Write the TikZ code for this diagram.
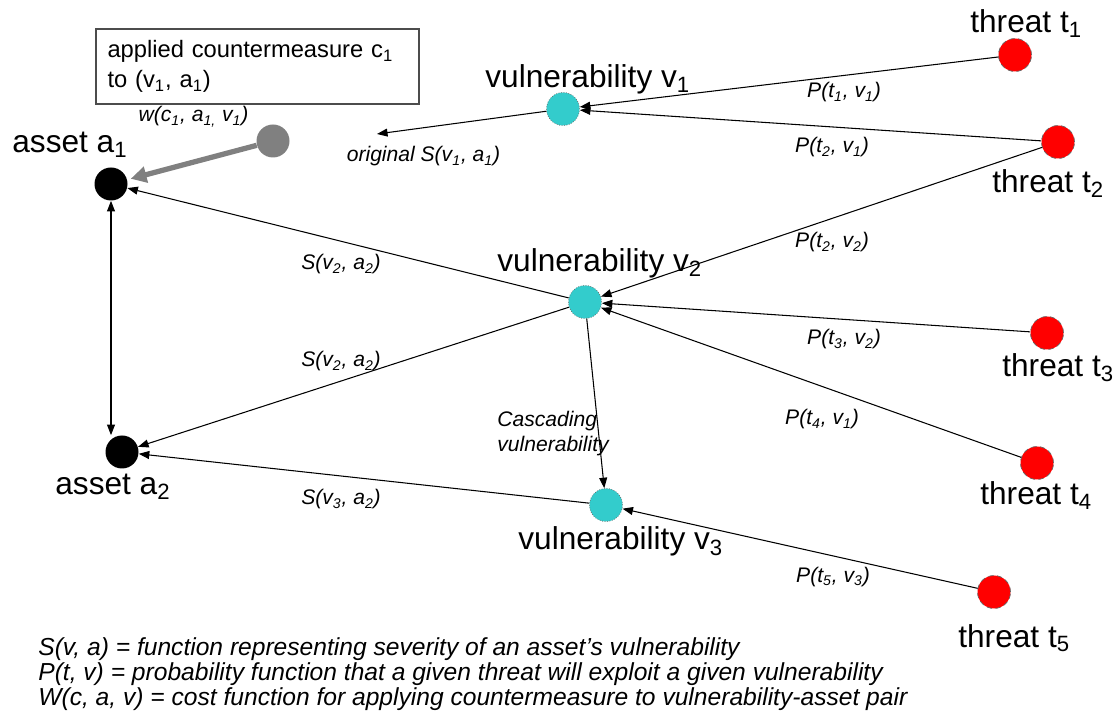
\documentclass[tikz,border=0pt]{standalone}
\usepackage{xcolor}
\usepackage{fontspec}
\setmainfont{Liberation Sans}
\usepackage{tikz}
\usetikzlibrary{arrows.meta, positioning, calc}
\definecolor{vulncyan}{HTML}{33CCCC}
\definecolor{threatred}{HTML}{FF0000}
\definecolor{cmgrey}{HTML}{808080}
\newcommand{\lsub}[1]{\textsubscript{#1}}
\tikzstyle{asset} = [circle, fill=black, minimum size=0.66cm, inner sep=0pt]
\tikzstyle{vuln} = [circle, fill=vulncyan, draw=black!60, densely dotted, minimum size=0.66cm, inner sep=0pt]
\tikzstyle{threat} = [circle, fill=threatred, draw=black!60, densely dashed, minimum size=0.66cm, inner sep=0pt]
\tikzstyle{cmeasure} = [circle, fill=cmgrey, minimum size=0.66cm, inner sep=0pt]
\tikzstyle{biglabel} = [inner sep=0pt, anchor=base west, font=\fontsize{18}{21}\selectfont]
\tikzstyle{elabel} = [inner sep=0pt, anchor=base, font=\fontsize{12}{14}\selectfont\itshape]
\tikzstyle{legend} = [inner sep=0pt, anchor=base west, font=\fontsize{14}{16}\selectfont\itshape]
\tikzstyle{arrow} = [line width=0.6pt, -{Triangle[length=6pt, width=4.5pt]}]
\tikzstyle{cmarrow} = [line width=3pt, color=cmgrey, -{Triangle[length=9pt, width=9pt]}, shorten >=2pt]

\begin{document}
\begin{tikzpicture}
    \useasboundingbox (0,0) rectangle (22.34,-14.30);
    % assets, vulnerabilities, threats
    \node[asset] (a1) at (2.22,-3.68) {};
    \node[asset] (a2) at (2.44,-9.04) {};
    \node[cmeasure] (cm) at (5.46,-2.82) {};
    \node[vuln] (v1) at (11.26,-2.18) {};
    \node[vuln] (v2) at (11.70,-6.04) {};
    \node[vuln] (v3) at (12.12,-10.10) {};
    \node[threat] (t1) at (20.30,-1.10) {};
    \node[threat] (t2) at (21.16,-2.84) {};
    \node[threat] (t3) at (20.94,-6.66) {};
    \node[threat] (t4) at (20.74,-9.26) {};
    \node[threat] (t5) at (19.88,-11.84) {};
    \coordinate (orig) at (7.54,-2.68);

    \node[biglabel] (a1lbl) at (0.24,-3.06) {asset a\lsub{1}};
    \node[biglabel] (a2lbl) at (1.10,-9.90) {asset a\lsub{2}};
    \node[biglabel] (v1lbl) at (9.70,-1.76) {vulnerability v\lsub{1}};
    \node[biglabel] (v2lbl) at (9.94,-5.44) {vulnerability v\lsub{2}};
    \node[biglabel] (v3lbl) at (10.36,-11.00) {vulnerability v\lsub{3}};
    \node[biglabel] (t1lbl) at (19.40,-0.66) {threat t\lsub{1}};
    \node[biglabel] (t2lbl) at (19.84,-3.86) {threat t\lsub{2}};
    \node[biglabel] (t3lbl) at (20.04,-7.54) {threat t\lsub{3}};
    \node[biglabel] (t4lbl) at (19.60,-10.10) {threat t\lsub{4}};
    \node[biglabel] (t5lbl) at (19.16,-12.94) {threat t\lsub{5}};

    % countermeasure box
    \node[draw=black!70, line width=0.6pt, minimum width=6.46cm, minimum height=1.5cm, text width=6.0cm, inner xsep=0.23cm, align=left, font=\fontsize{13.5}{17}\selectfont] (cmbox) at (5.15,-1.33) {applied countermeasure c\lsub{1}\\to (v\lsub{1}, a\lsub{1})};

    % connectors
    \draw[arrow] (t1) -- (v1);
    \draw[arrow] (t2) -- (v1);
    \draw[arrow] (v1) -- (orig);
    \draw[arrow] (t2) -- (v2);
    \draw[arrow] (t3) -- (v2);
    \draw[arrow] (t4) -- (v2);
    \draw[arrow] (t5) -- (v3);
    \draw[arrow] (v2) -- (a1);
    \draw[arrow] (v2) -- (a2);
    \draw[arrow] (v2) -- (v3);
    \draw[arrow] (v3) -- (a2);
    \draw[line width=0.6pt, {Triangle[length=6pt, width=4.5pt]}-{Triangle[length=6pt, width=4.5pt]}] (a1) -- (a1 |- a2.north);
    \draw[cmarrow] (cm) -- (a1);

    % connector labels
    \node[elabel] (p11) at (16.88,-1.96) {P(t\lsub{1}, v\lsub{1})};
    \node[elabel] (p21) at (16.64,-3.06) {P(t\lsub{2}, v\lsub{1})};
    \node[elabel] (p22) at (16.64,-4.96) {P(t\lsub{2}, v\lsub{2})};
    \node[elabel] (p32) at (16.88,-6.90) {P(t\lsub{3}, v\lsub{2})};
    \node[elabel] (p41) at (16.44,-8.50) {P(t\lsub{4}, v\lsub{1})};
    \node[elabel] (p53) at (16.66,-11.64) {P(t\lsub{5}, v\lsub{3})};
    \node[elabel] (s2a) at (6.82,-5.40) {S(v\lsub{2}, a\lsub{2})};
    \node[elabel] (s2b) at (6.82,-7.34) {S(v\lsub{2}, a\lsub{2})};
    \node[elabel] (s3) at (6.82,-10.10) {S(v\lsub{3}, a\lsub{2})};
    \node[elabel] (s1) at (8.47,-3.24) {original S(v\lsub{1}, a\lsub{1})};
    \node[elabel] (w1) at (3.87,-2.44) {w(c\lsub{1}, a\lsub{1,} v\lsub{1})};
    \node[elabel, anchor=north west, align=left] (casc) at (9.94,-8.22) {Cascading\\vulnerability};

    % legend
    \node[legend] (leg1) at (0.76,-13.10) {S(v, a) = function representing severity of an asset’s vulnerability};
    \node[legend] (leg2) at (0.76,-13.60) {P(t, v) = probability function that a given threat will exploit a given vulnerability};
    \node[legend] (leg3) at (0.76,-14.10) {W(c, a, v) = cost function for applying countermeasure to vulnerability-asset pair};
\end{tikzpicture}
\end{document}
